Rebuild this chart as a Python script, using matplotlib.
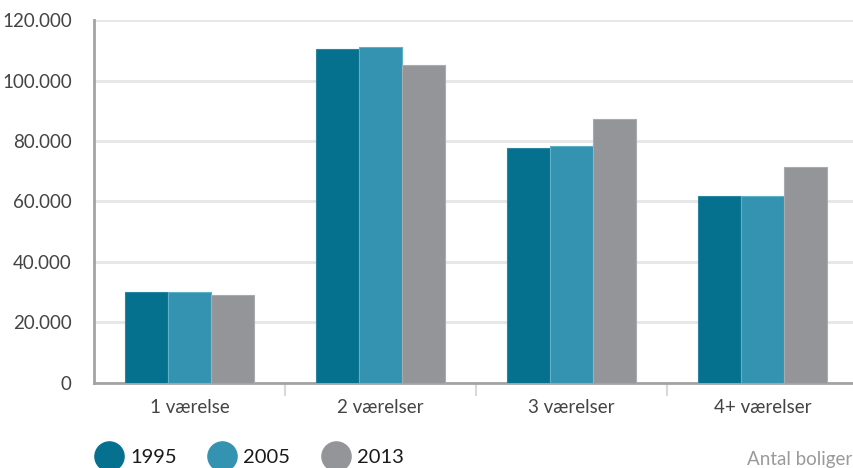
import matplotlib
matplotlib.use("Agg")
import matplotlib.pyplot as plt
from matplotlib.lines import Line2D
from matplotlib.ticker import FuncFormatter
import numpy as np

categories = ["1 værelse", "2 værelser", "3 værelser", "4+ værelser"]
years = ["1995", "2005", "2013"]
v1995 = [30000, 110400, 77800, 61800]
v2005 = [30000, 111100, 78500, 61800]
v2013 = [29100, 105200, 87200, 71500]
colors = ["#06718f", "#3493b0", "#939598"]
edges = ["#2a86a0", "#5fb0c8", "#a9abae"]

plt.rcParams['font.family'] = ['Lato', 'DejaVu Sans']

fig = plt.figure(figsize=(8.54, 4.68), dpi=100)
ax = fig.add_axes([0.110, 0.182, 0.895, 0.775])

x = np.arange(len(categories))
w = 0.225
for i, vals in enumerate([v1995, v2005, v2013]):
    ax.bar(x + (i - 1) * w, vals, w, color=colors[i], edgecolor=edges[i],
           linewidth=0.8, zorder=3)

ax.set_xlim(-0.5, 3.5)
ax.set_ylim(0, 120000)
ax.set_yticks(np.arange(0, 120001, 20000))
ax.yaxis.set_major_formatter(FuncFormatter(lambda v, p: f"{int(v):,}".replace(",", ".")))
ax.grid(axis="y", color="#e6e6e8", linewidth=2, zorder=0)
ax.tick_params(axis="y", length=0, pad=16, labelsize=13.5, labelcolor="#444444")

ax.set_xticks(x)
ax.set_xticklabels(categories)
ax.set_xticks([0.5, 1.5, 2.5], minor=True)
ax.tick_params(axis="x", which="major", length=0, pad=12, labelsize=13.5, labelcolor="#444444")
ax.tick_params(axis="x", which="minor", length=9, width=1.5, color="#d8d8da")

for s in ["top", "right"]:
    ax.spines[s].set_visible(False)
for s in ["left", "bottom"]:
    ax.spines[s].set_color("#a3a3a5")
    ax.spines[s].set_linewidth(2)

handles = [Line2D([0], [0], marker="o", linestyle="", markersize=21,
                  markerfacecolor=c, markeredgecolor=c) for c in colors]
leg = fig.legend(handles, years, loc="lower left", bbox_to_anchor=(0.083, -0.034),
                 ncol=3, frameon=False, handletextpad=0.05, columnspacing=1.25,
                 prop={"size": 14.5, "weight": "normal"})
for t in leg.get_texts():
    t.set_color("#1a1a1a")

fig.text(0.998, 0.0, "Antal boliger", ha="right", va="bottom", fontsize=13.5,
         color="#9a9a9c")

fig.savefig("out.png", dpi=100)
